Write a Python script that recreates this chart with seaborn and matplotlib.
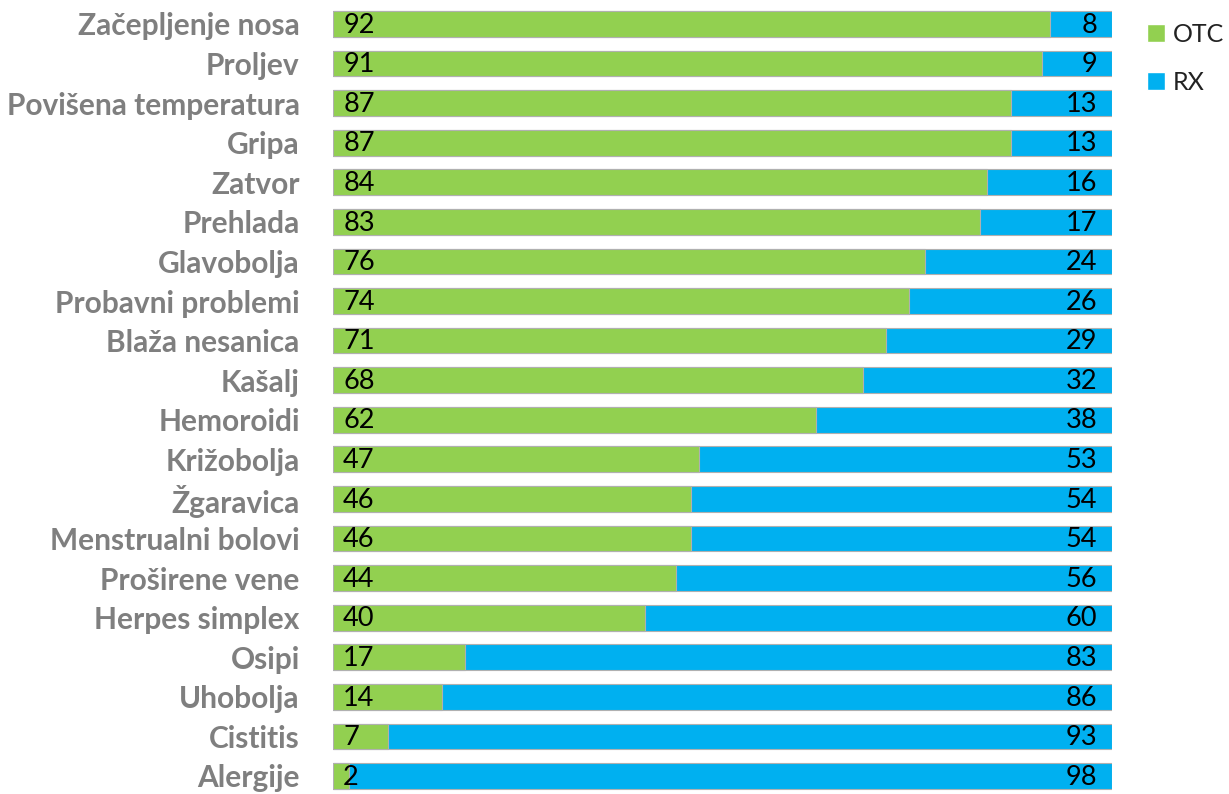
import seaborn as sns
import pandas as pd
import matplotlib.pyplot as plt
from matplotlib.patches import Patch

# data
categories = ["Začepljenje nosa", "Proljev", "Povišena temperatura", "Gripa", "Zatvor",
              "Prehlada", "Glavobolja", "Probavni problemi", "Blaža nesanica", "Kašalj",
              "Hemoroidi", "Križobolja", "Žgaravica", "Menstrualni bolovi", "Proširene vene",
              "Herpes simplex", "Osipi", "Uhobolja", "Cistitis", "Alergije"]
otc = [92, 91, 87, 87, 84, 83, 76, 74, 71, 68, 62, 47, 46, 46, 44, 40, 17, 14, 7, 2]
rx = [8, 9, 13, 13, 16, 17, 24, 26, 29, 32, 38, 53, 54, 54, 56, 60, 83, 86, 93, 98]

green = "#92D050"
blue = "#00B0F0"

df = pd.DataFrame({"kat": categories, "OTC": otc, "RX": rx})
df["total"] = df["OTC"] + df["RX"]

sns.set_style("white")
plt.rcParams["font.family"] = ["Lato", "DejaVu Sans"]

fig = plt.figure(figsize=(12.29, 7.94), dpi=100)
ax = fig.add_axes([333 / 1229, 0.0, 779 / 1229, 1.0])

sns.barplot(data=df, x="total", y="kat", color=blue, orient="h", width=0.65,
            edgecolor="#B0B0B0", linewidth=0.8, ax=ax, saturation=1)
sns.barplot(data=df, x="OTC", y="kat", color=green, orient="h", width=0.65,
            edgecolor="#B0B0B0", linewidth=0.8, ax=ax, saturation=1)

ax.set_xlim(0, 100)
ax.set_ylim(19.455, -0.606)
ax.set_xlabel("")
ax.set_ylabel("")
ax.set_xticks([])
for s in ax.spines.values():
    s.set_visible(False)
ax.tick_params(axis="y", length=0, pad=24)
for lab in ax.get_yticklabels():
    lab.set_fontsize(21.5)
    lab.set_fontweight("bold")
    lab.set_color("#7F7F7F")

for i, (o, r) in enumerate(zip(otc, rx)):
    ax.text(1.3, i + 0.03, str(o), ha="left", va="center", fontsize=19.5, color="black")
    ax.text(98.1, i + 0.03, str(r), ha="right", va="center", fontsize=19.5, color="black")

handles = [Patch(facecolor=green, label="OTC"), Patch(facecolor=blue, label="RX")]
fig.legend(handles=handles, loc="upper left", bbox_to_anchor=(1124 / 1229, 1.0),
           frameon=False, fontsize=18, handlelength=0.75, handleheight=0.75,
           handletextpad=0.3, labelspacing=1.0, labelcolor="#222222")

fig.savefig("out.png", dpi=100)
